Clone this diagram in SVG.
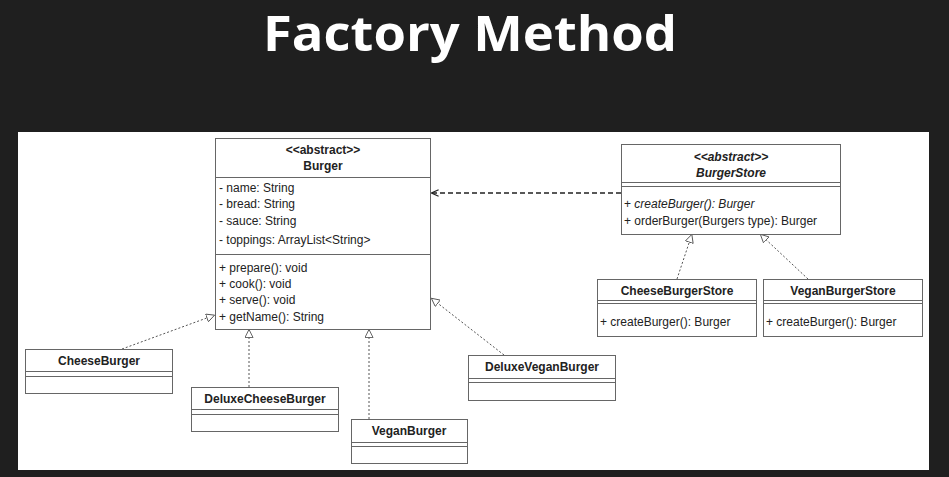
<svg xmlns="http://www.w3.org/2000/svg" width="949" height="477" viewBox="0 0 949 477">
<defs>
<style>
.box{fill:#fff;stroke:#666;stroke-width:1}
.sep{stroke:#666;stroke-width:1;fill:none}
.t{font-family:"Liberation Sans",Arial,sans-serif;font-size:12px;fill:#222}
.b{font-weight:bold}
.i{font-style:italic}
.c{text-anchor:middle}
.real{stroke:#555;stroke-width:1;fill:none;stroke-dasharray:2 2;marker-end:url(#tri)}
.dep{stroke:#222;stroke-width:1.4;fill:none;stroke-dasharray:5 3;marker-end:url(#open)}
</style>
<marker id="tri" viewBox="0 0 10 10" refX="10" refY="5" markerWidth="9" markerHeight="9" markerUnits="userSpaceOnUse" orient="auto">
<path d="M0.5,0.5 L9.5,5 L0.5,9.5 z" fill="#fff" stroke="#555" stroke-width="1"/>
</marker>
<marker id="open" viewBox="0 0 10 10" refX="10" refY="5" markerWidth="8" markerHeight="8" markerUnits="userSpaceOnUse" orient="auto">
<path d="M0.5,1 L9.5,5 L0.5,9" fill="none" stroke="#222" stroke-width="1.5"/>
</marker>
</defs>
<rect x="0" y="0" width="949" height="477" fill="#1f1f1f"/>
<text x="470" y="51" text-anchor="middle" font-family="'Open Sans','Noto Sans',sans-serif" font-weight="bold" font-size="48" fill="#fff" textLength="414" lengthAdjust="spacingAndGlyphs">Factory Method</text>
<rect x="18" y="132" width="911" height="338" fill="#fff"/>

<g id="connectors">
<path class="dep" d="M621,193 L431,193"/>
<path class="real" d="M122,349 L215,315"/>
<path class="real" d="M249,387 L249,329"/>
<path class="real" d="M369,419 L369,329"/>
<path class="real" d="M504,355 L431,298"/>
<path class="real" d="M677,279 L692,234"/>
<path class="real" d="M808,279 L760,234"/>
</g>

<g id="Burger">
<rect class="box" x="215.5" y="138.5" width="215" height="191"/>
<line class="sep" x1="215.5" y1="177.5" x2="430.5" y2="177.5"/>
<line class="sep" x1="215.5" y1="254.5" x2="430.5" y2="254.5"/>
<text class="t b c" x="323" y="154">&lt;&lt;abstract&gt;&gt;</text>
<text class="t b c" x="323" y="170">Burger</text>
<text class="t" x="219" y="192">- name: String</text>
<text class="t" x="219" y="208">- bread: String</text>
<text class="t" x="219" y="225">- sauce: String</text>
<text class="t" x="219" y="244">- toppings: ArrayList&lt;String&gt;</text>
<text class="t" x="219" y="272">+ prepare(): void</text>
<text class="t" x="219" y="288">+ cook(): void</text>
<text class="t" x="219" y="304">+ serve(): void</text>
<text class="t" x="219" y="321">+ getName(): String</text>
</g>

<g id="BurgerStore">
<rect class="box" x="621.5" y="144.5" width="219" height="90"/>
<line class="sep" x1="621.5" y1="182.5" x2="840.5" y2="182.5"/>
<line class="sep" x1="621.5" y1="186.5" x2="840.5" y2="186.5"/>
<text class="t b i c" x="731" y="161">&lt;&lt;abstract&gt;&gt;</text>
<text class="t b i c" x="731" y="177">BurgerStore</text>
<text class="t" x="624" y="208">+ <tspan class="i">createBurger(): Burger</tspan></text>
<text class="t" x="624" y="225">+ orderBurger(Burgers type): Burger</text>
</g>

<g id="CheeseBurgerStore">
<rect class="box" x="597.5" y="279.5" width="159" height="57"/>
<line class="sep" x1="597.5" y1="300.5" x2="756.5" y2="300.5"/>
<line class="sep" x1="597.5" y1="303.5" x2="756.5" y2="303.5"/>
<text class="t b c" x="677" y="295">CheeseBurgerStore</text>
<text class="t" x="600" y="326">+ createBurger(): Burger</text>
</g>

<g id="VeganBurgerStore">
<rect class="box" x="763.5" y="279.5" width="159" height="57"/>
<line class="sep" x1="763.5" y1="300.5" x2="922.5" y2="300.5"/>
<line class="sep" x1="763.5" y1="303.5" x2="922.5" y2="303.5"/>
<text class="t b c" x="843" y="295">VeganBurgerStore</text>
<text class="t" x="766" y="326">+ createBurger(): Burger</text>
</g>

<g id="CheeseBurger">
<rect class="box" x="25.5" y="349.5" width="147" height="44"/>
<line class="sep" x1="25.5" y1="371.5" x2="172.5" y2="371.5"/>
<line class="sep" x1="25.5" y1="376.5" x2="172.5" y2="376.5"/>
<text class="t b c" x="99" y="365">CheeseBurger</text>
</g>

<g id="DeluxeCheeseBurger">
<rect class="box" x="191.5" y="387.5" width="147" height="44"/>
<line class="sep" x1="191.5" y1="409.5" x2="338.5" y2="409.5"/>
<line class="sep" x1="191.5" y1="414.5" x2="338.5" y2="414.5"/>
<text class="t b c" x="265" y="403">DeluxeCheeseBurger</text>
</g>

<g id="VeganBurger">
<rect class="box" x="351.5" y="419.5" width="116" height="44"/>
<line class="sep" x1="351.5" y1="442.5" x2="467.5" y2="442.5"/>
<line class="sep" x1="351.5" y1="446.5" x2="467.5" y2="446.5"/>
<text class="t b c" x="409" y="435">VeganBurger</text>
</g>

<g id="DeluxeVeganBurger">
<rect class="box" x="468.5" y="355.5" width="147" height="45"/>
<line class="sep" x1="468.5" y1="378.5" x2="615.5" y2="378.5"/>
<line class="sep" x1="468.5" y1="382.5" x2="615.5" y2="382.5"/>
<text class="t b c" x="542" y="371">DeluxeVeganBurger</text>
</g>
</svg>
